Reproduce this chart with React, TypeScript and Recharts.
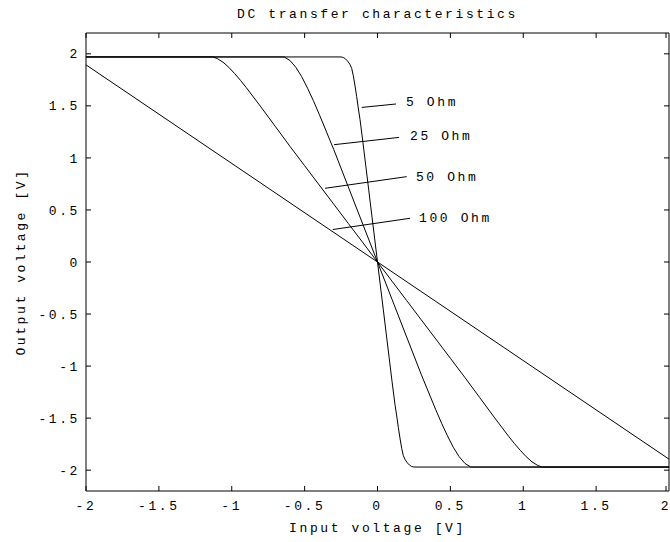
import React from 'react';
import { LineChart, Line, XAxis, YAxis, ReferenceLine, ReferenceDot } from 'recharts';

const FONT = '"Liberation Mono", "DejaVu Sans Mono", monospace';

const title = 'DC transfer characteristics';
const xLabel = 'Input voltage [V]';
const yLabel = 'Output voltage [V]';

const xTicks = [-2, -1.5, -1, -0.5, 0, 0.5, 1, 1.5, 2];
const yTicks = [-2, -1.5, -1, -0.5, 0, 0.5, 1, 1.5, 2];

// 5 Ohm
const r5X = [-2, -0.25, -0.235, -0.22, -0.205, -0.19, -0.177, -0.166, -0.154, -0.143, -0.132, -0.12, -0.1, -0.08, -0.06, -0.04, -0.02, 0, 0.02, 0.04, 0.06, 0.08, 0.1, 0.12, 0.132, 0.143, 0.154, 0.166, 0.177, 0.19, 0.205, 0.22, 0.235, 0.25, 2];
const r5Y = [1.97, 1.97, 1.965, 1.952, 1.93, 1.9, 1.86, 1.79, 1.69, 1.59, 1.48, 1.37, 1.15, 0.92, 0.69, 0.46, 0.23, 0, -0.23, -0.46, -0.69, -0.92, -1.15, -1.37, -1.48, -1.59, -1.69, -1.79, -1.86, -1.9, -1.93, -1.952, -1.965, -1.97, -1.97];

// 25 Ohm
const r25X = [-2, -0.64, -0.6, -0.56, -0.52, -0.48, -0.44, -0.4, -0.3, -0.2, -0.1, 0, 0.1, 0.2, 0.3, 0.4, 0.44, 0.48, 0.52, 0.56, 0.6, 0.64, 2];
const r25Y = [1.97, 1.97, 1.935, 1.87, 1.78, 1.67, 1.55, 1.42, 1.08, 0.72, 0.36, 0, -0.36, -0.72, -1.08, -1.42, -1.55, -1.67, -1.78, -1.87, -1.935, -1.97, -1.97];

// 50 Ohm
const r50X = [-2, -1.13, -1.1, -1.06, -1.02, -0.98, -0.94, -0.9, -0.8, -0.7, -0.6, -0.5, -0.4, -0.3, -0.2, -0.1, 0, 0.1, 0.2, 0.3, 0.4, 0.5, 0.6, 0.7, 0.8, 0.9, 0.94, 0.98, 1.02, 1.06, 1.1, 1.13, 2];
const r50Y = [1.97, 1.97, 1.955, 1.92, 1.87, 1.81, 1.745, 1.675, 1.49, 1.3, 1.11, 0.925, 0.74, 0.555, 0.37, 0.185, 0, -0.185, -0.37, -0.555, -0.74, -0.925, -1.11, -1.3, -1.49, -1.675, -1.745, -1.81, -1.87, -1.92, -1.955, -1.97, -1.97];

// 100 Ohm
const r100X = [-2, 0, 2];
const r100Y = [1.894, 0, -1.894];

// annotation leader lines and labels
const annNames = ['5 Ohm', '25 Ohm', '50 Ohm', '100 Ohm'];
const annFromX = [-0.108, -0.298, -0.36, -0.307];
const annFromY = [1.485, 1.127, 0.708, 0.312];
const annToX = [0.127, 0.148, 0.2, 0.223];
const annToY = [1.518, 1.197, 0.82, 0.42];
const annTextX = [0.196, 0.223, 0.264, 0.285];
const annTextY = [1.54, 1.213, 0.82, 0.427];

const toPoints = (xs: number[], ys: number[]) => xs.map((x, i) => ({ x, y: ys[i] }));

const series = [
  { name: '5 Ohm', data: toPoints(r5X, r5Y) },
  { name: '25 Ohm', data: toPoints(r25X, r25Y) },
  { name: '50 Ohm', data: toPoints(r50X, r50Y) },
  { name: '100 Ohm', data: toPoints(r100X, r100Y) },
];

const textStyle = { fill: '#000', fontFamily: FONT, fontSize: 13, letterSpacing: 2.6 };
const TICK_LEN = 5;
const TICK_COLOR = '#000';
const X_MARGIN = 10;
const Y_MARGIN = 6;

// inward tick marks drawn at the axis line, with optional label
const makeTick = (side: 'bottom' | 'top' | 'left' | 'right', margin: number, showText: boolean) =>
  (props: any) => {
    const { x, y, payload } = props;
    const label = String(payload.value);
    if (side === 'bottom') {
      const ay = y - margin;
      return (
        <g>
          <line x1={x} x2={x} y1={ay} y2={ay - TICK_LEN} stroke={TICK_COLOR} strokeWidth={1} />
          {showText && (
            <text x={x} y={y} dy="0.71em" textAnchor="middle" style={textStyle}>{label}</text>
          )}
        </g>
      );
    }
    if (side === 'top') {
      const ay = y + margin;
      return <line x1={x} x2={x} y1={ay} y2={ay + TICK_LEN} stroke={TICK_COLOR} strokeWidth={1} />;
    }
    if (side === 'left') {
      const ax = x + margin;
      return (
        <g>
          <line x1={ax} x2={ax + TICK_LEN} y1={y} y2={y} stroke={TICK_COLOR} strokeWidth={1} />
          {showText && (
            <text x={x} y={y} dy="0.355em" textAnchor="end" style={textStyle}>{label}</text>
          )}
        </g>
      );
    }
    const ax = x - margin;
    return <line x1={ax} x2={ax - TICK_LEN} y1={y} y2={y} stroke={TICK_COLOR} strokeWidth={1} />;
  };

const bottomTick = makeTick('bottom', X_MARGIN, true);
const topTick = makeTick('top', 0, false);
const leftTick = makeTick('left', Y_MARGIN, true);
const rightTick = makeTick('right', 0, false);

export default function App() {
  return (
    <div style={{ position: 'absolute', left: 0, top: 0, width: 670, height: 542, background: '#fff' }}>
      <LineChart width={670} height={542} margin={{ top: 32, right: 0, bottom: 21, left: 0 }}>
        <XAxis
          xAxisId="b"
          type="number"
          dataKey="x"
          domain={[-2, 2]}
          ticks={xTicks}
          allowDataOverflow
          height={30}
          tickSize={0}
          tickMargin={X_MARGIN}
          tickLine={false}
          stroke="#000"
          tick={bottomTick}
          label={{ value: xLabel, position: 'bottom', offset: 2, style: textStyle }}
        />
        <XAxis
          xAxisId="t"
          orientation="top"
          type="number"
          dataKey="x"
          domain={[-2, 2]}
          ticks={xTicks}
          allowDataOverflow
          height={1}
          tickSize={0}
          tickMargin={0}
          tickLine={false}
          stroke="#000"
          tick={topTick}
          label={{ value: title, position: 'top', offset: 14, style: textStyle }}
        />
        <YAxis
          yAxisId="l"
          type="number"
          domain={[-2.2, 2.2]}
          ticks={yTicks}
          allowDataOverflow
          width={86}
          tickSize={0}
          tickMargin={Y_MARGIN}
          tickLine={false}
          stroke="#000"
          tick={leftTick}
          label={{ value: yLabel, angle: -90, position: 'insideLeft', offset: 20, style: { ...textStyle, textAnchor: 'middle' } }}
        />
        <YAxis
          yAxisId="r"
          orientation="right"
          type="number"
          domain={[-2.2, 2.2]}
          ticks={yTicks}
          allowDataOverflow
          width={1}
          tickSize={0}
          tickMargin={0}
          tickLine={false}
          stroke="#000"
          tick={rightTick}
        />
        {series.map((s) => (
          <Line
            key={s.name}
            xAxisId="b"
            yAxisId="l"
            data={s.data}
            dataKey="y"
            type="linear"
            stroke="#000"
            strokeWidth={1}
            dot={false}
            activeDot={false}
            isAnimationActive={false}
          />
        ))}
        {annNames.map((n, i) => (
          <ReferenceLine
            key={'l' + n}
            xAxisId="b"
            yAxisId="l"
            segment={[{ x: annFromX[i], y: annFromY[i] }, { x: annToX[i], y: annToY[i] }]}
            stroke="#000"
            strokeWidth={1}
          />
        ))}
        {annNames.map((n, i) => (
          <ReferenceDot
            key={'t' + n}
            xAxisId="b"
            yAxisId="l"
            x={annTextX[i]}
            y={annTextY[i]}
            r={0}
            fill="none"
            stroke="none"
            label={{ value: n, position: 'right', offset: 0, style: textStyle }}
          />
        ))}
      </LineChart>
    </div>
  );
}
